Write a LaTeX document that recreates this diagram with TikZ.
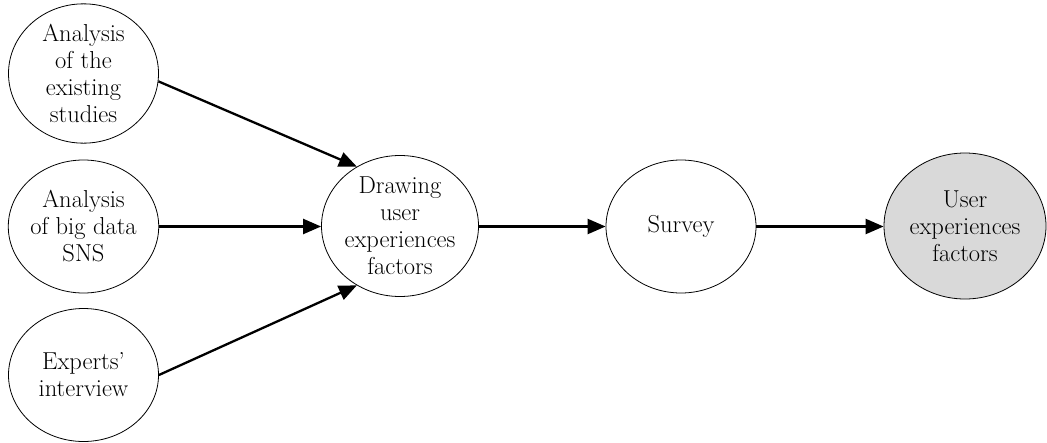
\documentclass[tikz,border=0pt]{standalone}
\usetikzlibrary{shapes.geometric,arrows.meta}
\definecolor{factorgray}{RGB}{217,217,217}
\begin{document}
\begin{tikzpicture}[x=1pt, y=-1pt,
    stage/.style={ellipse, draw, line width=.8pt, inner sep=0pt, align=center,
        minimum width=150pt, minimum height=133pt, font=\fontsize{24.5}{27}\selectfont},
    flow/.style={line width=2.3pt, -{Triangle[length=18pt, width=15pt]}}]
    \useasboundingbox (0, 0) rectangle (1047, 442);
\node[stage] (studies) at (83.5, 73.5) {Analysis\\of the\\existing\\studies};
\node[stage] (bigdata) at (83.5, 226.5) {Analysis\\of big data\\SNS};
\node[stage] (experts) at (83.5, 375) {Experts'\\interview};
\node[stage, minimum width=157pt, minimum height=141pt] (drawing) at (400, 226) {Drawing\\user\\experiences\\factors};
\node[stage] (survey) at (681, 226.5) {Survey};
\node[stage, fill=factorgray, minimum width=162pt, minimum height=146pt] (factors) at (965, 226) {User\\experiences\\factors};
    \draw[flow] (studies.-6.6) -- (drawing.126.6);
    \draw[flow] (bigdata.east) -- (drawing.west |- bigdata.east);
    \draw[flow] (experts.0.5) -- (drawing.234.4);
    \draw[flow] (drawing.east |- survey.west) -- (survey.west);
    \draw[flow] (survey.east) -- (factors.west |- survey.east);
    \end{tikzpicture}
\end{document}
